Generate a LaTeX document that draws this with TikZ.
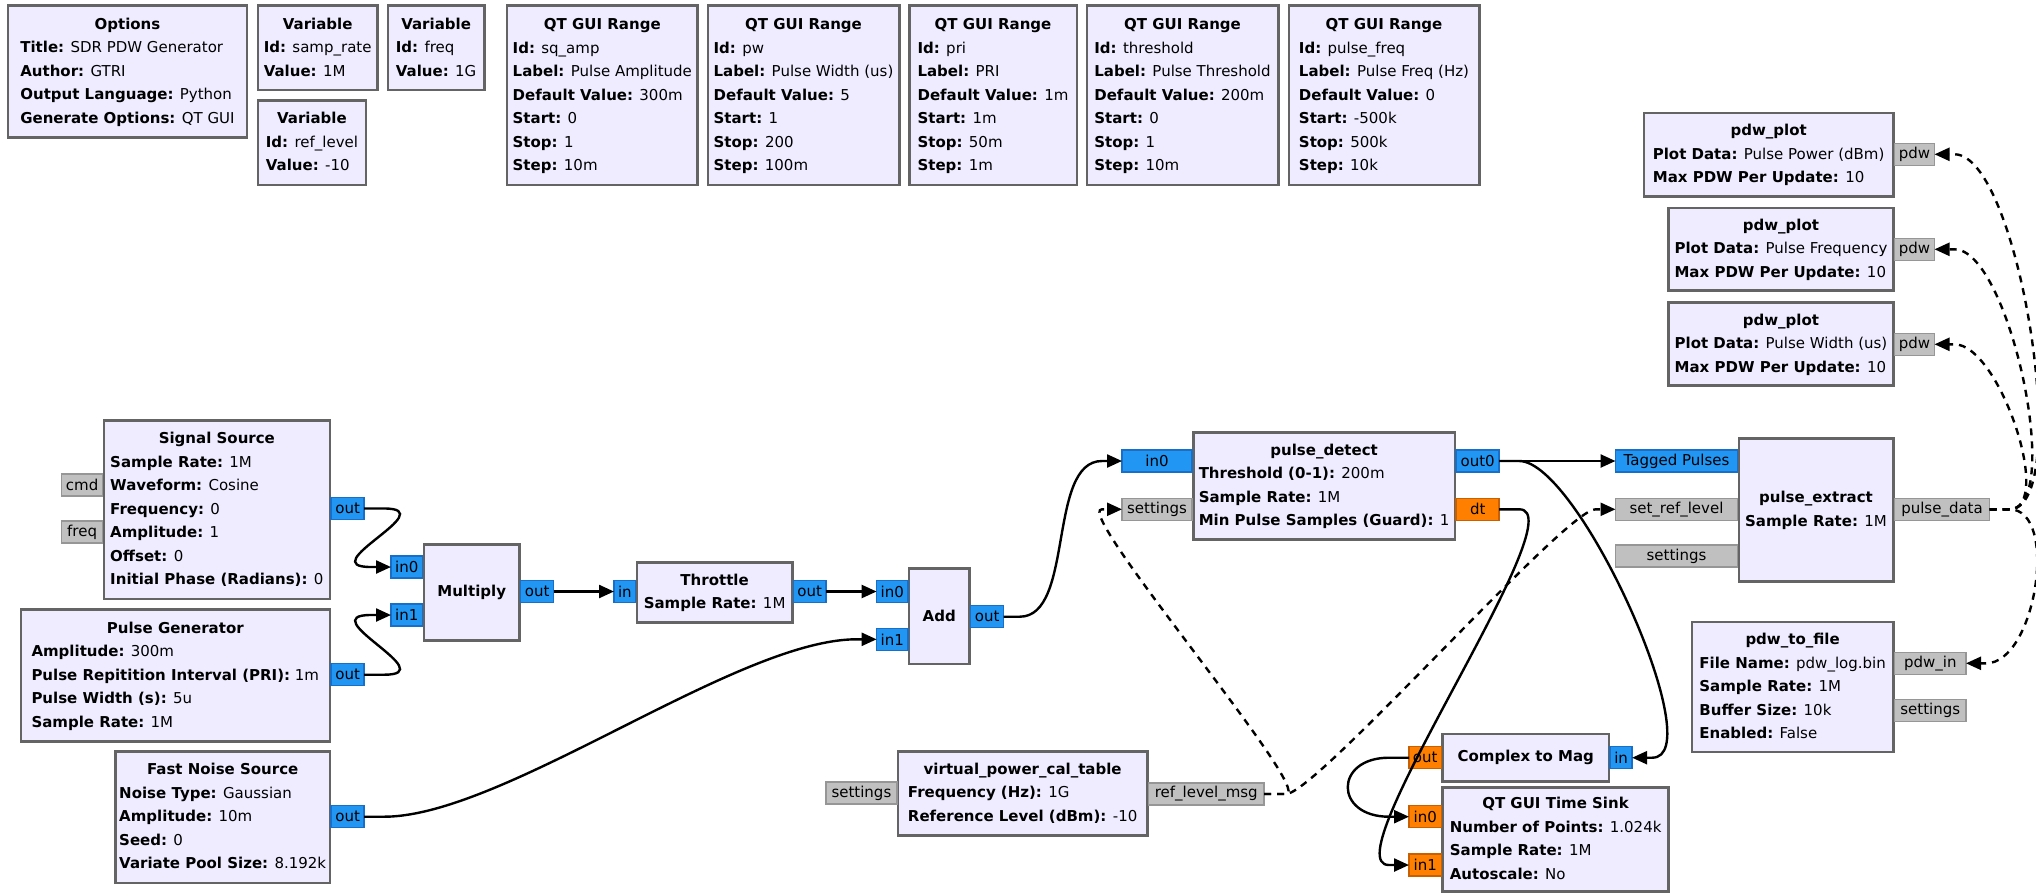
\documentclass[tikz,border=0pt]{standalone}
\usepackage{fontspec}
\setmainfont{DejaVu Sans}
\usetikzlibrary{arrows.meta}

\definecolor{blkfill}{RGB}{240,236,255}
\definecolor{blkline}{RGB}{100,100,100}
\definecolor{cplxfill}{RGB}{33,150,243}
\definecolor{cplxline}{RGB}{25,110,200}
\definecolor{fltfill}{RGB}{255,128,0}
\definecolor{fltline}{RGB}{200,95,0}
\definecolor{msgfill}{RGB}{192,192,192}
\definecolor{msgline}{RGB}{150,150,150}

% block text: bold title centred, parameters left aligned
\newcommand{\prm}[2]{\textbf{#1:} #2}
\newcommand{\blocktext}[2]{\begin{tabular}{@{}l@{}}\multicolumn{1}{@{}c@{}}{\textbf{#1}}\\#2\end{tabular}}

\tikzset{
	block/.style={draw=blkline, fill=blkfill, line width=2.5pt, anchor=north west, inner sep=0pt, font=\fontsize{15}{23.5}\selectfont},
	port/.style={line width=1.5pt, minimum height=22pt, inner sep=0pt, outer sep=0pt, font=\fontsize{15}{18}\selectfont},
	cplx/.style={port, draw=cplxline, fill=cplxfill},
	flt/.style={port, draw=fltline, fill=fltfill},
	msg/.style={port, draw=msgline, fill=msgfill},
	wire/.style={line width=2.4pt, -{Triangle[length=15pt,width=13pt]}},
	msgwire/.style={wire, dash pattern=on 7pt off 6pt},
}

\begin{document}
\begin{tikzpicture}[x=1pt, y=-1pt]

			\path[use as bounding box, fill=white] (0,0) rectangle (2036,892);

			% Variables and options
			\node[block, minimum width=239pt, minimum height=132pt]		(opt) at (6.7,4.3) {\blocktext{Options}{\prm{Title}{SDR PDW Generator}\\ \prm{Author}{GTRI}\\ \prm{Output Language}{Python}\\ \prm{Generate Options}{QT GUI}}};
			\node[block, minimum width=119.5pt, minimum height=84.5pt]	(v_sr) at (256.7,4.3) {\blocktext{Variable}{\prm{Id}{samp\_rate}\\ \prm{Value}{1M}}};
			\node[block, minimum width=96.5pt, minimum height=84.5pt]	(v_fq) at (386.6,4.3) {\blocktext{Variable}{\prm{Id}{freq}\\ \prm{Value}{1G}}};
			\node[block, minimum width=108pt, minimum height=84.5pt]	(v_rl) at (256.7,99) {\blocktext{Variable}{\prm{Id}{ref\_level}\\ \prm{Value}{-10}}};
			
			% Range widgets
			\node[block, minimum width=190.5pt, minimum height=179.5pt]	(r_amp) at (505.8,4.3) {\blocktext{QT GUI Range}{\prm{Id}{sq\_amp}\\ \prm{Label}{Pulse Amplitude}\\ \prm{Default Value}{300m}\\ \prm{Start}{0}\\ \prm{Stop}{1}\\ \prm{Step}{10m}}};
			\node[block, minimum width=191.5pt, minimum height=179.5pt]	(r_pw) at (706.5,4.3) {\blocktext{QT GUI Range}{\prm{Id}{pw}\\ \prm{Label}{Pulse Width (us)}\\ \prm{Default Value}{5}\\ \prm{Start}{1}\\ \prm{Stop}{200}\\ \prm{Step}{100m}}};
			\node[block, minimum width=167.5pt, minimum height=179.5pt]	(r_pri) at (908,4.3) {\blocktext{QT GUI Range}{\prm{Id}{pri}\\ \prm{Label}{PRI}\\ \prm{Default Value}{1m}\\ \prm{Start}{1m}\\ \prm{Stop}{50m}\\ \prm{Step}{1m}}};
			\node[block, minimum width=191.5pt, minimum height=179.5pt]	(r_thr) at (1085.5,4.3) {\blocktext{QT GUI Range}{\prm{Id}{threshold}\\ \prm{Label}{Pulse Threshold}\\ \prm{Default Value}{200m}\\ \prm{Start}{0}\\ \prm{Stop}{1}\\ \prm{Step}{10m}}};
			\node[block, minimum width=190.5pt, minimum height=179.5pt]	(r_pf) at (1287.5,4.3) {\blocktext{QT GUI Range}{\prm{Id}{pulse\_freq}\\ \prm{Label}{Pulse Freq (Hz)}\\ \prm{Default Value}{0}\\ \prm{Start}{-500k}\\ \prm{Stop}{500k}\\ \prm{Step}{10k}}};
			
			% Plots
			\node[block, minimum width=249.3pt, minimum height=83.3pt]	(pp1) at (1642.7,111.7) {\blocktext{pdw\_plot}{\prm{Plot Data}{Pulse Power (dBm)}\\ \prm{Max PDW Per Update}{10}}};
			\node[block, minimum width=224.6pt, minimum height=82.6pt]	(pp2) at (1667.4,206.7) {\blocktext{pdw\_plot}{\prm{Plot Data}{Pulse Frequency}\\ \prm{Max PDW Per Update}{10}}};
			\node[block, minimum width=224.6pt, minimum height=83.3pt]	(pp3) at (1667.4,301) {\blocktext{pdw\_plot}{\prm{Plot Data}{Pulse Width (us)}\\ \prm{Max PDW Per Update}{10}}};
			
			% Sources
			\node[block, minimum width=226pt, minimum height=178.7pt]	(ss) at (102.6,419) {\blocktext{Signal Source}{\prm{Sample Rate}{1M}\\ \prm{Waveform}{Cosine}\\ \prm{Frequency}{0}\\ \prm{Amplitude}{1}\\ \prm{Offset}{0}\\ \prm{Initial Phase (Radians)}{0}}};
			\node[block, minimum width=309.1pt, minimum height=131.7pt]	(pg) at (19.5,608.3) {\blocktext{Pulse Generator}{\prm{Amplitude}{300m}\\ \prm{Pulse Repitition Interval (PRI)}{1m}\\ \prm{Pulse Width (s)}{5u}\\ \prm{Sample Rate}{1M}}};
			\node[block, minimum width=214.3pt, minimum height=131.7pt]	(fns) at (114.3,750) {\blocktext{Fast Noise Source}{\prm{Noise Type}{Gaussian}\\ \prm{Amplitude}{10m}\\ \prm{Seed}{0}\\ \prm{Variate Pool Size}{8.192k}}};
			
			% Signal chain
			\node[block, minimum width=95.5pt, minimum height=95.7pt]	(mul) at (422.7,543.3) {\textbf{Multiply}};
			\node[block, minimum width=155.3pt, minimum height=60.3pt]	(thr) at (635.7,561) {\blocktext{Throttle}{\prm{Sample Rate}{1M}}};
			\node[block, minimum width=60.4pt, minimum height=95.7pt]	(add) at (907.8,567) {\textbf{Add}};
			\node[block, minimum width=261.7pt, minimum height=107.3pt]	(pd) at (1192,431) {\blocktext{pulse\_detect}{\prm{Threshold (0-1)}{200m}\\ \prm{Sample Rate}{1M}\\ \prm{Min Pulse Samples (Guard)}{1}}};
			\node[block, minimum width=249.2pt, minimum height=84pt]	(vp) at (896.8,750) {\blocktext{virtual\_power\_cal\_table}{\prm{Frequency (Hz)}{1G}\\ \prm{Reference Level (dBm)}{-10}}};
			\node[block, minimum width=154.5pt, minimum height=142.7pt]	(pe) at (1737.5,437.3) {\blocktext{pulse\_extract}{\prm{Sample Rate}{1M}}};
			\node[block, minimum width=201.3pt, minimum height=130pt]	(pf) at (1690.7,620.7) {\blocktext{pdw\_to\_file}{\prm{File Name}{pdw\_log.bin}\\ \prm{Sample Rate}{1M}\\ \prm{Buffer Size}{10k}\\ \prm{Enabled}{False}}};
			\node[block, minimum width=166.2pt, minimum height=47.3pt]	(c2m) at (1441.4,732.7) {\textbf{Complex to Mag}};
			\node[block, minimum width=226pt, minimum height=104pt]		(ts) at (1441.4,786) {\blocktext{QT GUI Time Sink}{\prm{Number of Points}{1.024k}\\ \prm{Sample Rate}{1M}\\ \prm{Autoscale}{No}}};
			
			% Ports
			\node[msg, anchor=east, minimum width=41pt]		(ss_cmd) at (ss.west |- 0,485) {cmd};
			\node[msg, anchor=east, minimum width=41pt]		(ss_freq) at (ss.west |- 0,532) {freq};
			\node[cplx, anchor=west, minimum width=33pt]	(ss_out) at (ss.east |- 0,508.5) {out};
			\node[cplx, anchor=west, minimum width=33pt]	(pg_out) at (pg.east |- 0,674.7) {out};
			\node[cplx, anchor=west, minimum width=33pt]	(fns_out) at (fns.east |- 0,816.7) {out};
			
			\node[cplx, anchor=east, minimum width=31.7pt]	(mul_in0) at (mul.west |- 0,567) {in0};
			\node[cplx, anchor=east, minimum width=31.7pt]	(mul_in1) at (mul.west |- 0,615) {in1};
			\node[cplx, anchor=west, minimum width=33pt]	(mul_out) at (mul.east |- 0,591.5) {out};
			\node[cplx, anchor=east, minimum width=21.7pt]	(thr_in) at (thr.west |- 0,591.5) {in};
			\node[cplx, anchor=west, minimum width=32.4pt]	(thr_out) at (thr.east |- 0,591.5) {out};
			\node[cplx, anchor=east, minimum width=31.2pt]	(add_in0) at (add.west |- 0,591.5) {in0};
			\node[cplx, anchor=east, minimum width=31.2pt]	(add_in1) at (add.west |- 0,639.3) {in1};
			\node[cplx, anchor=west, minimum width=33pt]	(add_out) at (add.east |- 0,616.7) {out};
			
			\node[cplx, anchor=east, minimum width=70pt]	(pd_in0) at (pd.west |- 0,461) {in0};
			\node[msg, anchor=east, minimum width=70pt]		(pd_set) at (pd.west |- 0,509.3) {settings};
			\node[cplx, anchor=west, minimum width=43pt]	(pd_out0) at (pd.east |- 0,461) {out0};
			\node[flt, anchor=west, minimum width=43pt]		(pd_dt) at (pd.east |- 0,509.3) {dt};
			
			\node[msg, anchor=east, minimum width=70.8pt]	(vp_set) at (vp.west |- 0,793) {settings};
			\node[msg, anchor=west, minimum width=115.5pt]	(vp_msg) at (vp.east |- 0,794) {ref\_level\_msg};
			
			\node[cplx, anchor=east, minimum width=122pt]	(pe_tag) at (pe.west |- 0,461) {Tagged Pulses};
			\node[msg, anchor=east, minimum width=122pt]	(pe_ref) at (pe.west |- 0,509.3) {set\_ref\_level};
			\node[msg, anchor=east, minimum width=122pt]	(pe_set) at (pe.west |- 0,556) {settings};
			\node[msg, anchor=west, minimum width=95pt]		(pe_data) at (pe.east |- 0,509.3) {pulse\_data};
			
			\node[msg, anchor=west, minimum width=40pt]		(pp1_in) at (pp1.east |- 0,154.3) {pdw};
			\node[msg, anchor=west, minimum width=40pt]		(pp2_in) at (pp2.east |- 0,249.3) {pdw};
			\node[msg, anchor=west, minimum width=40pt]		(pp3_in) at (pp3.east |- 0,344.3) {pdw};
			\node[msg, anchor=west, minimum width=71.5pt]	(pf_in) at (pf.east |- 0,663.3) {pdw\_in};
			\node[msg, anchor=west, minimum width=71.5pt]	(pf_set) at (pf.east |- 0,710.7) {settings};
			
			\node[flt, anchor=east, minimum width=32.4pt]	(c2m_out) at (c2m.west |- 0,757.7) {out};
			\node[cplx, anchor=west, minimum width=22pt]	(c2m_in) at (c2m.east |- 0,757.7) {in};
			\node[flt, anchor=east, minimum width=32.4pt]	(ts_in0) at (ts.west |- 0,816.7) {in0};
			\node[flt, anchor=east, minimum width=32.4pt]	(ts_in1) at (ts.west |- 0,865) {in1};
			
			% Connect the nodes
			\draw[wire] (ss_out.east) -- ++(20,0) .. controls +(60,0) and +(-60,0) .. ([xshift=-20pt]mul_in0.west) -- (mul_in0.west);
			\draw[wire] (pg_out.east) -- ++(20,0) .. controls +(60,0) and +(-60,0) .. ([xshift=-20pt]mul_in1.west) -- (mul_in1.west);
			\draw[wire] (mul_out.east) -- (thr_in.west);
			\draw[wire] (thr_out.east) -- (add_in0.west);
			\draw[wire] (fns_out.east) -- ++(20,0) .. controls +(120,0) and +(-120,0) .. ([xshift=-20pt]add_in1.west) -- (add_in1.west);
			\draw[wire] (add_out.east) -- ++(16,0) .. controls +(55,0) and +(-55,0) .. ([xshift=-20pt]pd_in0.west) -- (pd_in0.west);
			\draw[wire] (pd_out0.east) -- (pe_tag.west);
			\draw[wire] (pd_out0.east) -- ++(20,0) .. controls +(60,0) and +(60,0) .. ([xshift=20pt]c2m_in.east) -- (c2m_in.east);
			\draw[wire] (pd_dt.east) -- ++(20,0) .. controls +(60,0) and +(-60,0) .. ([xshift=-20pt]ts_in1.west) -- (ts_in1.west);
			\draw[wire] (c2m_out.west) -- ++(-20,0) .. controls +(-55,0) and +(-55,0) .. ([xshift=-20pt]ts_in0.west) -- (ts_in0.west);
			
			% Message connections
			\draw[msgwire] (vp_msg.east) -- ++(22,0) .. controls +(30,0) and +(-30,0) .. ([xshift=-20pt]pd_set.west) -- (pd_set.west);
			\draw[msgwire] (vp_msg.east) -- ++(22,0) .. controls +(30,0) and +(-30,0) .. ([xshift=-20pt]pe_ref.west) -- (pe_ref.west);
			\draw[msgwire] (pe_data.east) -- ++(20,0) .. controls +(65,0) and +(65,0) .. ([xshift=20pt]pp1_in.east) -- (pp1_in.east);
			\draw[msgwire] (pe_data.east) -- ++(20,0) .. controls +(55,0) and +(55,0) .. ([xshift=20pt]pp2_in.east) -- (pp2_in.east);
			\draw[msgwire] (pe_data.east) -- ++(20,0) .. controls +(45,0) and +(45,0) .. ([xshift=20pt]pp3_in.east) -- (pp3_in.east);
			\draw[msgwire] (pe_data.east) -- ++(20,0) .. controls +(50,0) and +(50,0) .. ([xshift=20pt]pf_in.east) -- (pf_in.east);
			
\end{tikzpicture}
\end{document}
